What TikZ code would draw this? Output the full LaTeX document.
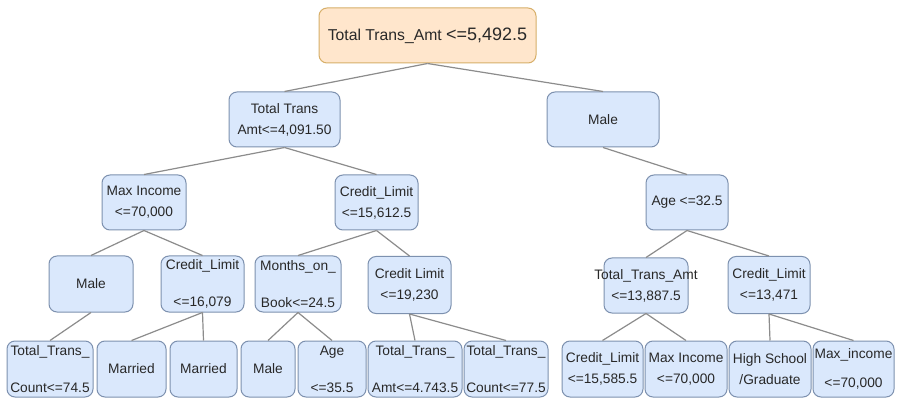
\documentclass[tikz,border=0pt]{standalone}
\usepackage{fontspec}
\setmainfont{Liberation Sans}
\newcommand\zl[1]{\makebox[0pt]{#1}}
\begin{document}
\begin{tikzpicture}[x=0.75pt,y=-0.75pt]
\definecolor{bfill}{RGB}{218,232,252}
\definecolor{bdraw}{RGB}{125,145,175}
\definecolor{ofill}{RGB}{255,230,204}
\definecolor{odraw}{RGB}{215,175,105}
\definecolor{edgec}{RGB}{140,140,140}
\definecolor{txt}{RGB}{40,40,40}
\tikzset{
 box/.style={draw=bdraw, fill=bfill, rounded corners=6pt, line width=0.75pt, inner sep=0pt, align=center, font=\fontsize{10.3}{15.75}\selectfont, text=txt},
 rootbox/.style={box, draw=odraw, fill=ofill},
 sz/.style 2 args={minimum width=#1*0.75pt, minimum height=#2*0.75pt},
 conn/.style={draw=edgec, line width=0.9pt},
}
\useasboundingbox (0,0) rectangle (898,402);
\fill[white] (0,0) rectangle (898,402);

% level 0
\node[rootbox, sz={217}{55}] (root) at (427.5,35.5) {\zl{\fontsize{11.8}{14}\selectfont Total Trans\_Amt {\fontsize{13.5}{16}\selectfont <=5,492.5}}};
% level 1
\node[box, sz={111}{55}] (n1) at (284.5,119.5) {\zl{Total Trans}\\\zl{Amt<=4,091.50}};
\node[box, sz={112}{55}] (n2) at (603,119.5) {\zl{Male}};
% level 2
\node[box, sz={84}{55}] (n3) at (144,202.5) {\zl{Max Income}\\\zl{<=70,000}};
\node[box, sz={83}{55}] (n4) at (376.5,202.5) {\zl{Credit\_Limit}\\\zl{<=15,612.5}};
\node[box, sz={82}{55}] (n5) at (687,202.5) {\zl{Age <=32.5}};
% level 3
\node[box, sz={84}{56}] (n6) at (91,284) {\zl{Male}};
\node[box, sz={83}{56}] (n7) at (202.5,284) {\zl{Credit\_Limit}\\[12pt]\zl{<=16,079}};
\node[box, sz={86}{56}] (n8) at (298,284) {\zl{Months\_on\_}\\[12pt]\zl{Book<=24.5}};
\node[box, sz={83}{57}] (n9) at (409.5,285) {\zl{Credit Limit}\\\zl{<=19,230}};
\node[box, sz={84}{55}] (n10) at (646,285.5) {\zl{Total\_Trans\_Amt}\\\zl{<=13,887.5}};
\node[box, sz={82}{57}] (n11) at (769,285) {\zl{Credit\_Limit}\\\zl{<=13,471}};
% level 4
\node[box, sz={86}{56}] (n12) at (50,369) {\zl{Total\_Trans\_}\\[12pt]\zl{Count<=74.5}};
\node[box, sz={69}{56}] (n13) at (131.5,369) {\zl{Married}};
\node[box, sz={67}{56}] (n14) at (203.5,369) {\zl{Married}};
\node[box, sz={54}{56}] (n15) at (268,369) {\zl{Male}};
\node[box, sz={68}{56}] (n16) at (332,369) {\zl{Age}\\[12pt]\zl{<=35.5}};
\node[box, sz={94}{56}] (n17) at (415,369) {\zl{Total\_Trans\_}\\[12pt]\zl{Amt<=4.743.5}};
\node[box, sz={84}{56}] (n18) at (506,369) {\zl{Total\_Trans\_}\\[12pt]\zl{Count<=77.5}};
\node[box, sz={81}{56}] (n19) at (602.5,369) {\zl{Credit\_Limit}\\\zl{<=15,585.5}};
\node[box, sz={82}{56}] (n20) at (686,369) {\zl{Max Income}\\\zl{<=70,000}};
\node[box, sz={82}{56}] (n21) at (770,369) {\zl{High School}\\\zl{/Graduate}};
\node[box, sz={81}{56}] (n22) at (853.5,369) {\zl{Max\_income}\\[6pt]\zl{<=70,000}};

% connectors
\begin{scope}[on background layer/.style={}]
\draw[conn] (root.south) -- (n1.north);
\draw[conn] (root.south) -- (n2.north);
\draw[conn] (n1.south) -- (n3.north);
\draw[conn] (n1.south) -- (n4.north);
\draw[conn] (n2.south) -- (n5.north);
\draw[conn] (n3.south) -- (n6.north);
\draw[conn] (n3.south) -- (n7.north);
\draw[conn] (n4.south) -- (n8.north);
\draw[conn] (n4.south) -- (n9.north);
\draw[conn] (n5.south) -- (n10.north);
\draw[conn] (n5.south) -- (n11.north);
\draw[conn] (n6.south) -- (n12.north);
\draw[conn] (n7.south) -- (n13.north);
\draw[conn] (n7.south) -- (n14.north);
\draw[conn] (n8.south) -- (n15.north);
\draw[conn] (n8.south) -- (n16.north);
\draw[conn] (n9.south) -- (n17.north);
\draw[conn] (n9.south) -- (n18.north);
\draw[conn] (n10.south) -- (n19.north);
\draw[conn] (n10.south) -- (n20.north);
\draw[conn] (n11.south) -- (n21.north);
\draw[conn] (n11.south) -- (n22.north);
\end{scope}
\end{tikzpicture}
\end{document}
